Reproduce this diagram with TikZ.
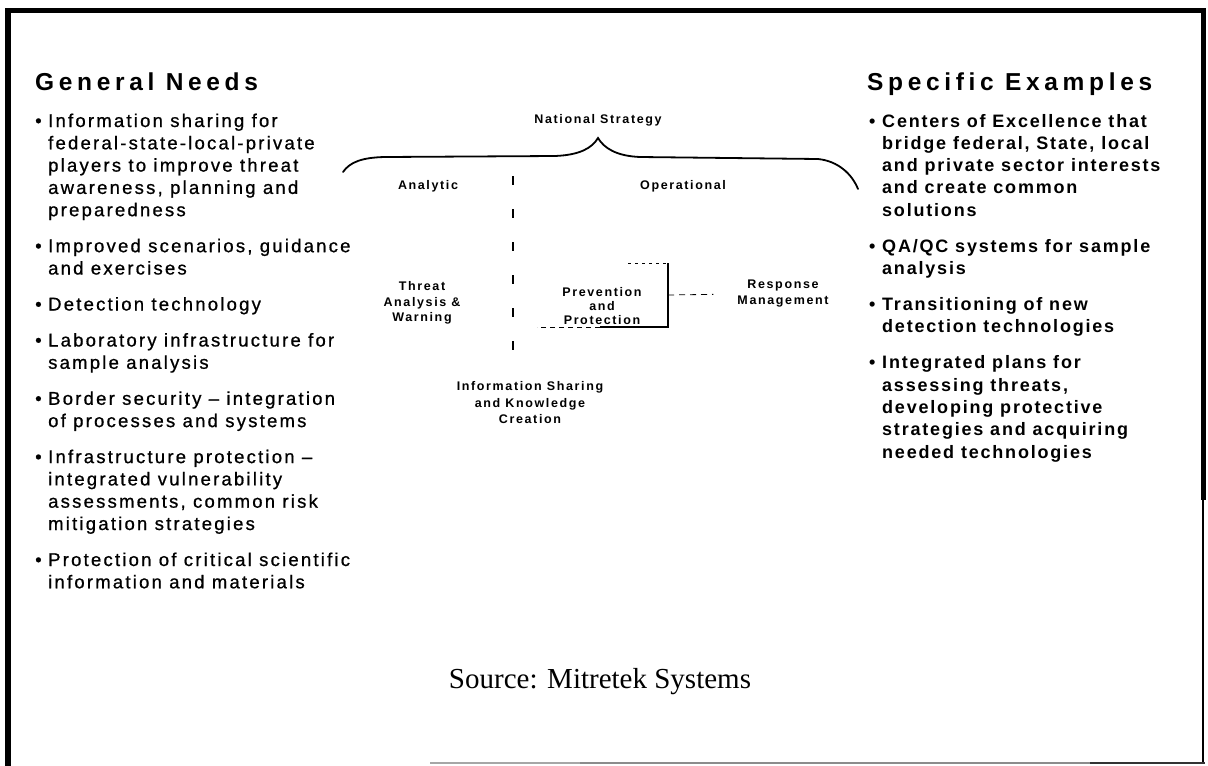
\documentclass[tikz,border=0pt]{standalone}
\usepackage{fontspec}
\setmainfont{Liberation Sans}
\newfontfamily\headfont[LetterSpace=19]{Liberation Sans}
\newfontfamily\leftfont[LetterSpace=12,FakeBold=0.8]{Liberation Sans}
\newfontfamily\rightfont[LetterSpace=10]{Liberation Sans}
\newfontfamily\smallfont[LetterSpace=13]{Liberation Sans}
\newfontfamily\srcfont{Liberation Serif}
\usetikzlibrary{calc}
\newcommand\bulletmark{\llap{\makebox[13pt][l]{\textbullet}}}

\begin{document}
\begin{tikzpicture}[x=1pt,y=-1pt,
  head/.style={anchor=base west, inner sep=0pt,
    font=\headfont\bfseries\fontsize{24.5}{28}\selectfont},
  lline/.style={anchor=base west, inner sep=0pt,
    font=\leftfont\fontsize{18.5}{22}\selectfont},
  rline/.style={anchor=base west, inner sep=0pt,
    font=\rightfont\bfseries\fontsize{18}{22}\selectfont},
  lbl/.style={inner sep=0pt, align=center,
    font=\smallfont\bfseries\fontsize{12.5}{15}\selectfont},
  frame/.style={line width=#1, black},
  ]
\useasboundingbox (0,0) rectangle (1208,766);
\fill[white] (0,0) rectangle (1208,766);

% outer frame
\draw[frame=5pt] (5,10.5) -- (1205,10.5);
\draw[frame=6pt] (8,8) -- (8,766);
\draw[frame=5pt] (1203,8) -- (1203,500);
\draw[frame=2.5pt] (1203,500) -- (1203,763);
\draw[line width=1.2pt, black!35] (430,763) -- (580,763);
\draw[line width=1.5pt, black!45] (580,763) -- (1090,763);
\draw[line width=1.8pt, black!80] (1090,763) -- (1205,763);

% column headings
\node[head] (gnhead) at (35,90) {General Needs};
\node[head] (sehead) at (867,90) {Specific Examples};

% general needs
\foreach \y/\t [count=\i] in {
  127/{\bulletmark Information sharing for},
  149.3/{federal-state-local-private},
  171.6/{players to improve threat},
  193.9/{awareness, planning and},
  216.2/{preparedness},
  252.2/{\bulletmark Improved scenarios, guidance},
  274.5/{and exercises},
  310.5/{\bulletmark Detection technology},
  346.5/{\bulletmark Laboratory infrastructure for},
  368.8/{sample analysis},
  404.8/{\bulletmark Border security – integration},
  427.1/{of processes and systems},
  463.1/{\bulletmark Infrastructure protection –},
  485.4/{integrated vulnerability},
  507.7/{assessments, common risk},
  530/{mitigation strategies},
  566/{\bulletmark Protection of critical scientific},
  588.3/{information and materials}}
  \node[lline] (gn\i) at (48,\y) {\t};

% specific examples
\foreach \y/\t [count=\i] in {
  127/{\bulletmark Centers of Excellence that},
  149.3/{bridge federal, State, local},
  171.6/{and private sector interests},
  193.9/{and create common},
  216.2/{solutions},
  252.2/{\bulletmark QA/QC systems for sample},
  274.5/{analysis},
  310.5/{\bulletmark Transitioning of new},
  332.8/{detection technologies},
  368.8/{\bulletmark Integrated plans for},
  391.1/{assessing threats,},
  413.4/{developing protective},
  435.7/{strategies and acquiring},
  458/{needed technologies}}
  \node[rline] (se\i) at (882,\y) {\t};

% national strategy brace
\node[lbl] (ns) at (598,120) {National Strategy};
\coordinate (brL) at (343,172);
\coordinate (brTip) at (598,138);
\coordinate (brR) at (858,189);
\draw[line width=1.8pt, line cap=round]
  (brL) .. controls (350,162) and (362,157.5) .. (385,157)
  -- (555,156) .. controls (580,155) and (592,148) .. (brTip)
  .. controls (604,148) and (616,156) .. (640,157)
  -- (818,159) .. controls (838,161) and (852,174) .. (brR);

\node[lbl] (ana) at (428,186) {Analytic};
\node[lbl] (ope) at (683,186) {Operational};

% analytic / operational divider
\coordinate (vt) at (513,176);
\coordinate (vb) at (513,362);
\draw[line width=1.6pt, dash pattern=on 9pt off 24pt] (vt) -- (vb);

\node[lbl, font=\smallfont\bfseries\fontsize{12.5}{15.5}\selectfont] (taw) at (422,303)
  {Threat\\Analysis \&\\Warning};
\node[lbl, font=\smallfont\bfseries\fontsize{12.5}{14}\selectfont] (pap) at (602,306)
  {Prevention\\and\\Protection};
\node[lbl, font=\smallfont\bfseries\fontsize{12.5}{16}\selectfont] (rm) at (783,294)
  {Response\\Management};
\node[lbl, font=\smallfont\bfseries\fontsize{12.5}{16.5}\selectfont] (isk) at (530,403)
  {Information Sharing\\and Knowledge\\Creation};

% box around prevention and protection
\coordinate (bxT) at (628,263);
\coordinate (bxNE) at (668,263);
\coordinate (bxE) at (668,295);
\coordinate (bxSE) at (668,327);
\coordinate (bxB) at (600,327);
\coordinate (bxSW) at (537,327);
\draw[line width=0.8pt, dash pattern=on 3pt off 4pt] (bxT) -- (bxNE);
\draw[line width=1.2pt] (bxNE) -- (bxSE) -- (bxB);
\draw[line width=0.8pt, dash pattern=on 5pt off 4pt] (bxB) -- (bxSW);
\draw[line width=0.8pt, dash pattern=on 6pt off 5pt, shorten >=24pt] (bxE) -- (rm.west);

% source line
\node[inner sep=0pt, font=\srcfont\fontsize{29}{34}\selectfont] (src) at (600,682)
  {Source: Mitretek Systems};
\end{tikzpicture}
\end{document}
